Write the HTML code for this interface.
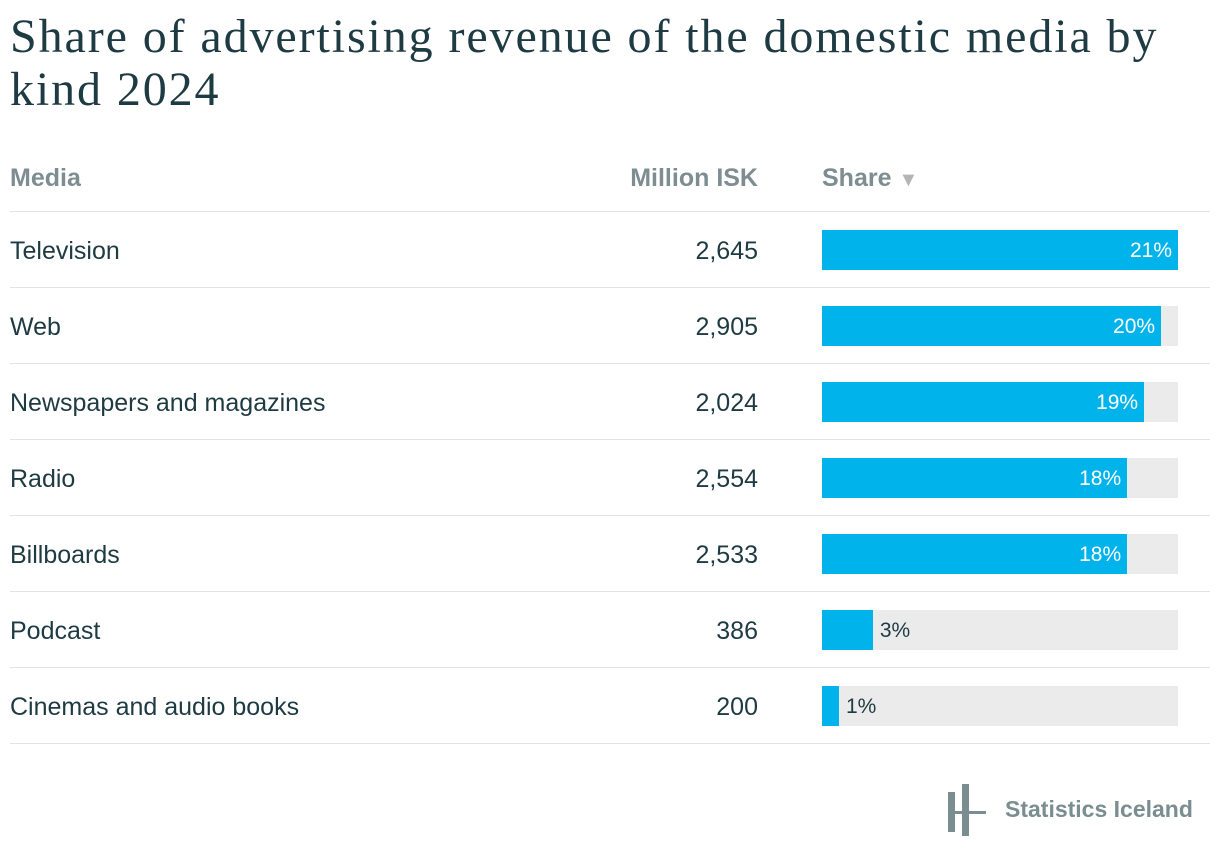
<!DOCTYPE html>
<html><head><meta charset="utf-8"><style>
body{margin:0;width:1220px;height:860px;background:#fff;font-family:"Liberation Sans",sans-serif;color:#1e3a42;position:relative;overflow:hidden}
.t{position:absolute;left:10px;top:10px;font-family:"Liberation Serif",serif;font-size:48px;line-height:53px;letter-spacing:1.9px;color:#1e3a42;width:1210px}
.h{position:absolute;top:164px;font-size:25px;color:#7d8d92;font-weight:bold}
.line{position:absolute;left:10px;width:1200px;height:1px;background:#e3e3e3}
.lab{position:absolute;left:10px;font-size:25px}
.val{position:absolute;right:462px;font-size:25px;text-align:right}
.bg{position:absolute;left:822px;width:356px;height:40px;background:#ebebeb}
.bar{position:absolute;left:0;top:0;height:40px;background:#00b4eb}
.pct{position:absolute;top:9px;font-size:21px}
</style></head><body>
<div class="t">Share of advertising revenue of the domestic media by<br>kind 2024</div>
<div class="h" style="left:10px">Media</div>
<div class="h" style="right:462px">Million ISK</div>
<div class="h" style="left:822px">Share <span style="color:#b5b5b5;font-size:20px">▼</span></div>
<div class="line" style="top:211px"></div>
<div id="rows"></div>
<svg style="position:absolute;left:946px;top:784px" width="42" height="54">
<rect x="2" y="8" width="7" height="40" fill="#7a8d91"/><rect x="16" y="0" width="7" height="52" fill="#7a8d91"/><rect x="2" y="27" width="38" height="3" fill="#7a8d91"/></svg>
<div style="position:absolute;left:1005px;top:796px;font-size:23px;font-weight:bold;color:#7a8d91">Statistics Iceland</div>
<script>
const categories=["Television","Web","Newspapers and magazines","Radio","Billboards","Podcast","Cinemas and audio books"];
const millionIsk=["2,645","2,905","2,024","2,554","2,533","386","200"];
const shares=[21,20,19,18,18,3,1];
const maxShare=Math.max(...shares);
const rows=document.getElementById('rows');
categories.forEach((c,i)=>{
  const y=211+i*76;
  const l=document.createElement('div');l.className='lab';l.style.top=(y+26)+'px';l.textContent=c;
  
  
  rows.appendChild(l);
  const v=document.createElement('div');v.className='val';v.style.top=(y+26)+'px';v.textContent=millionIsk[i];
  
  
  rows.appendChild(v);
  const bg=document.createElement('div');bg.className='bg';bg.style.top=(y+19)+'px';
  
  
  const w=356*shares[i]/maxShare;
  const b=document.createElement('div');b.className='bar';b.style.width=w+'px';
  
  
  bg.appendChild(b);
  const p=document.createElement('div');p.className='pct';p.textContent=shares[i]+'%';
  
  
  if(w>80){p.style.right=(356-w+6)+'px';p.style.color='#fff';}else{p.style.left=(w+7)+'px';p.style.color='#1e3a42';}
  bg.appendChild(p);
  rows.appendChild(bg);
  const ln=document.createElement('div');ln.className='line';ln.style.top=(y+76)+'px';
  
  
  rows.appendChild(ln);
});
</script>
</body></html>
